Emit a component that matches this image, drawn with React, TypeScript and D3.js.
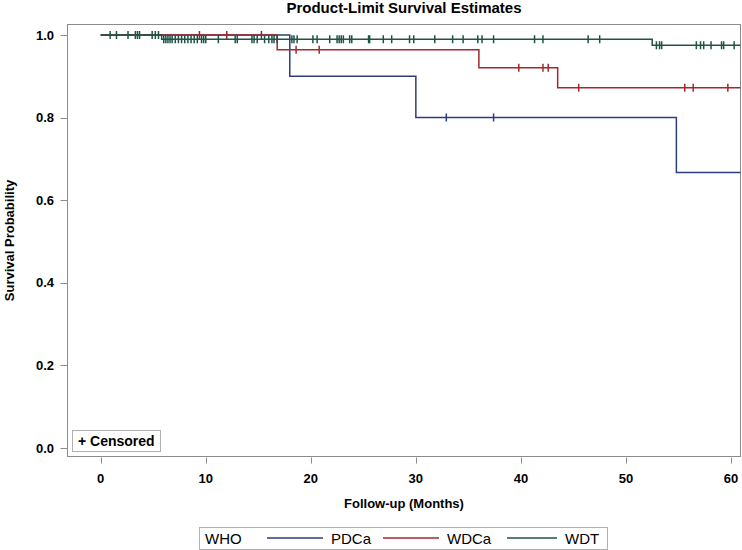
import React from "react";
import * as d3 from "d3";

const title = "Product-Limit Survival Estimates";
const xTicks = [0, 10, 20, 30, 40, 50, 60];
const yTicks = [0, 0.2, 0.4, 0.6, 0.8, 1.0];
const groups = ["PDCa", "WDCa", "WDT"];
const groupColors = ["#2E3D7C", "#A3282B", "#1D5446"];

const pdcaEventTimes = [18.0, 30.0, 54.8];
const pdcaEventSurv = [0.9, 0.8, 0.667];
const pdcaCensor = [15.3, 32.9, 37.4];

const wdcaEventTimes = [16.8, 36.0, 43.5];
const wdcaEventSurv = [0.964, 0.921, 0.872];
const wdcaCensor = [9.4, 12.0, 18.6, 20.8, 39.8, 42.1, 42.6, 45.5, 55.6, 56.4, 59.7];

const wdtEventTimes = [5.8, 52.5];
const wdtEventSurv = [0.99, 0.975];
const wdtCensor = [
  0.9, 1.5, 2.6, 3.3, 3.5, 3.7, 4.9, 5.2, 5.5,
  6.0, 6.2, 6.4, 6.6, 6.8, 7.1, 7.4, 7.7, 8.0, 8.3, 8.6, 8.9, 9.2, 9.6, 9.8, 10.0,
  11.2, 12.8, 13.0, 14.4, 14.6, 14.9, 15.6, 16.0, 16.3, 16.5, 16.8, 18.2, 18.4, 18.7,
  20.2, 20.6, 21.8, 22.5, 22.7, 22.9, 23.1, 23.7, 23.9, 25.5, 25.6, 26.9, 27.7, 29.4,
  29.8, 31.8, 33.5, 34.5, 35.9, 36.3, 37.4, 41.3, 42.1, 46.4, 47.5,
  52.9, 53.2, 53.4, 56.7, 57.1, 57.4, 58.1, 59.1, 59.3, 60.3,
];

const endTime = 61;

const series = [
  { name: groups[0], color: groupColors[0], times: pdcaEventTimes, surv: pdcaEventSurv, censor: pdcaCensor },
  { name: groups[1], color: groupColors[1], times: wdcaEventTimes, surv: wdcaEventSurv, censor: wdcaCensor },
  { name: groups[2], color: groupColors[2], times: wdtEventTimes, surv: wdtEventSurv, censor: wdtCensor },
];

const FONT = "'Liberation Sans', Arial, sans-serif";

function survAt(times: number[], surv: number[], t: number) {
  let s = 1;
  for (let i = 0; i < times.length; i++) if (t >= times[i]) s = surv[i];
  return s;
}

export default function App() {
  const W = 742, H = 550;
  const frame = { left: 67.5, right: 740.5, top: 24.5, bottom: 456.5 };
  const x = d3.scaleLinear().domain([0, 60]).range([100.7, 731]);
  const y = d3.scaleLinear().domain([0, 1]).range([448, 35]);
  const line = d3.line<[number, number]>().x(d => x(d[0])).y(d => y(d[1])).curve(d3.curveStepAfter);
  const gridGray = "#8c8c8c";

  return (
    <svg width={W} height={H} style={{ position: "absolute", left: 0, top: 0, background: "#fff" }} fontFamily={FONT}>
      <defs>
        <clipPath id="plotclip">
          <rect x={frame.left} y={frame.top} width={frame.right - frame.left} height={frame.bottom - frame.top} />
        </clipPath>
      </defs>
      <rect x={0} y={0} width={W} height={H} fill="#fff" />
      <text x={(frame.left + frame.right) / 2} y={13} textAnchor="middle" fontSize={15} fontWeight="bold" fill="#000">{title}</text>

      {/* frame */}
      <rect x={frame.left} y={frame.top} width={frame.right - frame.left} height={frame.bottom - frame.top} fill="none" stroke={gridGray} strokeWidth={1} />

      {/* y axis */}
      {yTicks.map(t => (
        <g key={"y" + t}>
          <line x1={frame.left - 7} x2={frame.left} y1={Math.round(y(t)) + 0.5} y2={Math.round(y(t)) + 0.5} stroke={gridGray} />
          <text x={54} y={y(t) + 4.5} textAnchor="end" fontSize={13} fontWeight="bold" fill="#000">{t.toFixed(1)}</text>
        </g>
      ))}
      <text transform={`translate(14, ${(frame.top + frame.bottom) / 2}) rotate(-90)`} textAnchor="middle" fontSize={13} fontWeight="bold" fill="#000">Survival Probability</text>

      {/* x axis */}
      {xTicks.map(t => (
        <g key={"x" + t}>
          <line x1={Math.round(x(t)) + 0.5} x2={Math.round(x(t)) + 0.5} y1={frame.bottom + 1} y2={frame.bottom + 7} stroke={gridGray} />
          <text x={x(t)} y={483} textAnchor="middle" fontSize={13} fontWeight="bold" fill="#000">{t}</text>
        </g>
      ))}
      <text x={(frame.left + frame.right) / 2} y={508} textAnchor="middle" fontSize={13} fontWeight="bold" fill="#000">Follow-up (Months)</text>

      {/* curves */}
      <g clipPath="url(#plotclip)">
        {series.map(s => {
          const pts: [number, number][] = [[0, 1]];
          s.times.forEach((t, i) => pts.push([t, s.surv[i]]));
          pts.push([endTime, s.surv[s.surv.length - 1]]);
          return (
            <g key={s.name}>
              <path d={line(pts) || ""} fill="none" stroke={s.color} strokeWidth={1.5} />
              {s.censor.map((c, i) => {
                const cy = y(survAt(s.times, s.surv, c));
                return <line key={i} x1={x(c)} x2={x(c)} y1={cy - 4} y2={cy + 4} stroke={s.color} strokeWidth={1.5} />;
              })}
            </g>
          );
        })}
      </g>

      {/* censored inset */}
      <rect x={72.5} y={430.5} width={88} height={21} fill="#fff" stroke="#b0b0b0" />
      <text x={78} y={446} fontSize={14} fontWeight="bold" fill="#000">+ Censored</text>

      {/* legend */}
      <rect x={199.5} y={527.5} width={408} height={22} fill="#fff" stroke="#b0b0b0" />
      <text x={205} y={543.5} fontSize={15} fill="#000">WHO</text>
      {[
        { lx: 267, tx: 331 },
        { lx: 383, tx: 447 },
        { lx: 507, tx: 565 },
      ].map((p, i) => (
        <g key={groups[i]}>
          <line x1={p.lx} x2={p.tx - 8} y1={538} y2={538} stroke={groupColors[i]} strokeWidth={1.5} />
          <text x={p.tx} y={543.5} fontSize={15} fill="#000">{groups[i]}</text>
        </g>
      ))}
    </svg>
  );
}
